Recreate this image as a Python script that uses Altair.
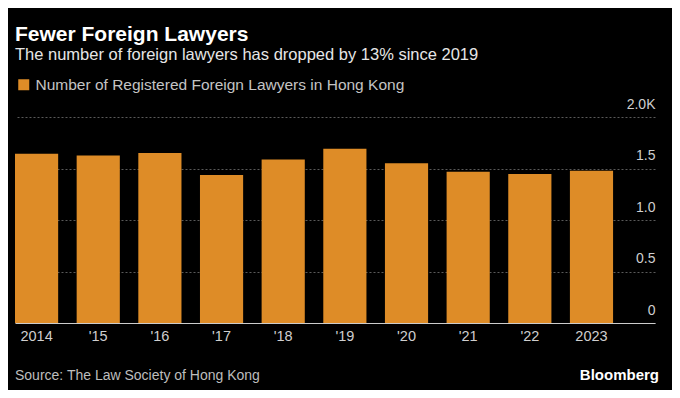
import altair as alt
import pandas as pd

years = ["2014", "'15", "'16", "'17", "'18", "'19", "'20", "'21", "'22", "2023"]
lawyers = [1644, 1627, 1650, 1437, 1588, 1692, 1550, 1469, 1447, 1479]
series_name = "Number of Registered Foreign Lawyers in Hong Kong"
y_ticks = [0, 500, 1000, 1500, 2000]
title_text = "Fewer Foreign Lawyers"
subtitle_text = "The number of foreign lawyers has dropped by 13% since 2019"
source_text = "Source: The Law Society of Hong Kong"
brand_text = "Bloomberg"

FONT = "Liberation Sans"
W, H = 640, 206

df = pd.DataFrame({"year": years, "value": lawyers, "series": [series_name] * len(years)})

bars = alt.Chart(df).mark_bar(color="#DE8C27").encode(
    x=alt.X(
        "year:N",
        sort=None,
        title=None,
        scale=alt.Scale(paddingInner=0.3, paddingOuter=0.34, align=0),
        axis=alt.Axis(
            labelAngle=0, ticks=False, tickSize=0, domain=True, domainColor="#cccccc",
            domainWidth=1, labelColor="#cfcfcf", labelFont=FONT, labelFontSize=14.5,
            labelPadding=6, grid=False,
        ),
    ),
    y=alt.Y(
        "value:Q",
        title=None,
        scale=alt.Scale(domain=[0, 2000], nice=False),
        axis=alt.Axis(
            orient="right", values=y_ticks, ticks=False, tickSize=0, domain=False,
            grid=True, gridColor="#5a5a5a", gridDash=[2, 2], gridWidth=1,
            labelAlign="right", labelPadding=0, labelBaseline="alphabetic", labelOffset=-9,
            labelColor="#cfcfcf", labelFont=FONT, labelFontSize=14,
            labelExpr="datum.value == 0 ? '0' : (datum.value == 2000 ? '2.0K' : format(datum.value / 1000, '.1f'))",
        ),
    ),
    color=alt.Color(
        "series:N",
        scale=alt.Scale(range=["#DE8C27"]),
        legend=alt.Legend(
            orient="none", legendX=1, legendY=-40, title=None, symbolType="square",
            symbolSize=121, symbolStrokeWidth=0, labelColor="#c4c4c4", labelFont=FONT,
            labelFontSize=15.5, padding=0, labelOffset=4, labelLimit=0,
        ),
    ),
)

src = alt.Chart(pd.DataFrame({"t": [source_text]})).mark_text(
    align="left", baseline="middle", font=FONT, fontSize=14, color="#bdbdbd"
).encode(x=alt.value(0), y=alt.value(259), text="t:N")

brand = alt.Chart(pd.DataFrame({"t": [brand_text]})).mark_text(
    align="right", baseline="middle", font=FONT, fontSize=15, fontWeight="bold", color="#ffffff"
).encode(x=alt.value(644), y=alt.value(258), text="t:N")

chart = alt.layer(bars, src, brand).properties(
    width=W,
    height=H,
    background="#000000",
    autosize=alt.AutoSizeParams(type="none"),
    padding={"left": 7, "top": 109, "right": 17, "bottom": 67},
    title=alt.TitleParams(
        text=title_text, subtitle=subtitle_text, anchor="start", frame="group",
        font=FONT, fontSize=21, fontWeight="bold", color="#ffffff",
        subtitleFont=FONT, subtitleFontSize=16.5, subtitleColor="#e6e6e6",
        subtitlePadding=2, offset=14, dx=0,
    ),
).configure_view(stroke=None)

chart.save("out.html", embed_options={"renderer": "svg", "actions": False})
